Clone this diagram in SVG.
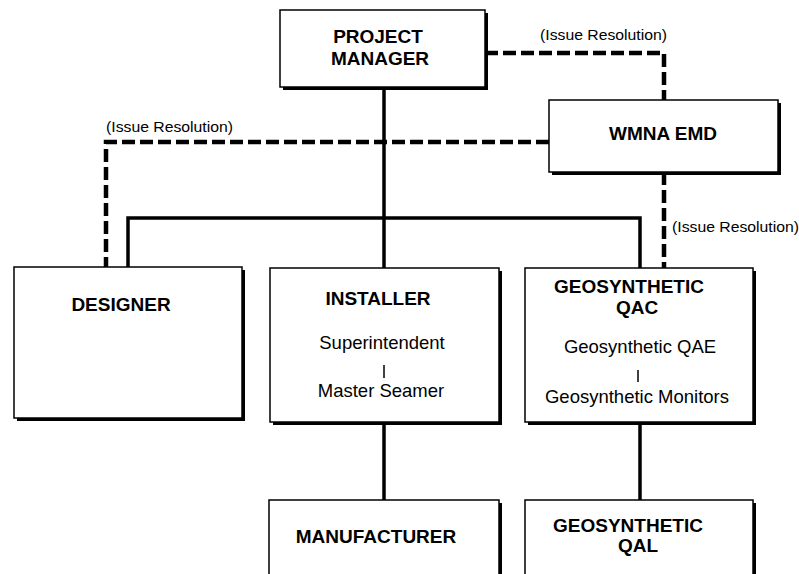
<svg xmlns="http://www.w3.org/2000/svg" width="799" height="574" viewBox="0 0 799 574">
<style>
.box{fill:#fff;stroke:#000;stroke-width:1.5}
.shadow{fill:#000}
.title{font-family:"Liberation Sans",Arial,sans-serif;font-weight:bold;font-size:19px;fill:#000;text-anchor:middle}
.sub{font-family:"Liberation Sans",Arial,sans-serif;font-size:18.5px;fill:#000;text-anchor:middle}
.tick{stroke:#000;stroke-width:1.5}
.lbl{font-family:"Liberation Sans",Arial,sans-serif;font-size:15px;fill:#000}
.solid{fill:none;stroke:#000;stroke-width:3.5}
.dash{fill:none;stroke:#000;stroke-width:4.5;stroke-dasharray:13 5}
</style>
<rect width="799" height="574" fill="#fff"/>
<g id="connectors">
<path class="solid" d="M384,87 V268"/>
<path class="solid" d="M128,267 V218 H640 V268"/>
<path class="solid" d="M384,422 V500"/>
<path class="solid" d="M640,422 V500"/>
<path class="dash" d="M485,53 H664 V100"/>
<path class="dash" d="M549,142 H106 V267"/>
<path class="dash" d="M664,172 V268"/>
<text class="lbl" x="540" y="40" textLength="127" lengthAdjust="spacingAndGlyphs">(Issue Resolution)</text>
<text class="lbl" x="106" y="132" textLength="127" lengthAdjust="spacingAndGlyphs">(Issue Resolution)</text>
<text class="lbl" x="672" y="232" textLength="127" lengthAdjust="spacingAndGlyphs">(Issue Resolution)</text>
</g>
<g id="project-manager">
<rect class="shadow" x="283" y="13" width="205" height="77"/>
<rect class="box" x="280" y="10" width="205" height="77"/>
<text class="title" x="378" y="43">PROJECT</text>
<text class="title" x="380" y="65">MANAGER</text>
</g>
<g id="wmna-emd">
<rect class="shadow" x="552" y="103" width="229" height="72"/>
<rect class="box" x="549" y="100" width="229" height="72"/>
<text class="title" x="663" y="140">WMNA EMD</text>
</g>
<g id="designer">
<rect class="shadow" x="17" y="270" width="228" height="151"/>
<rect class="box" x="14" y="267" width="228" height="151"/>
<text class="title" x="121" y="311">DESIGNER</text>
</g>
<g id="installer">
<rect class="shadow" x="273" y="271" width="229" height="154"/>
<rect class="box" x="270" y="268" width="229" height="154"/>
<text class="title" x="378" y="305">INSTALLER</text>
<text class="sub" x="382" y="349">Superintendent</text>
<line class="tick" x1="384" y1="365" x2="384" y2="378"/>
<text class="sub" x="381" y="397">Master Seamer</text>
</g>
<g id="geosynthetic-qac">
<rect class="shadow" x="528" y="271" width="228" height="154"/>
<rect class="box" x="525" y="268" width="228" height="154"/>
<text class="title" x="629" y="293">GEOSYNTHETIC</text>
<text class="title" x="637" y="314">QAC</text>
<text class="sub" x="640" y="353">Geosynthetic QAE</text>
<line class="tick" x1="638" y1="370" x2="638" y2="382"/>
<text class="sub" x="637" y="403">Geosynthetic Monitors</text>
</g>
<g id="manufacturer">
<rect class="shadow" x="272" y="503" width="230" height="100"/>
<rect class="box" x="269" y="500" width="230" height="100"/>
<text class="title" x="376" y="543">MANUFACTURER</text>
</g>
<g id="geosynthetic-qal">
<rect class="shadow" x="528" y="503" width="228" height="100"/>
<rect class="box" x="525" y="500" width="228" height="100"/>
<text class="title" x="628" y="532">GEOSYNTHETIC</text>
<text class="title" x="638" y="552">QAL</text>
</g>
</svg>
